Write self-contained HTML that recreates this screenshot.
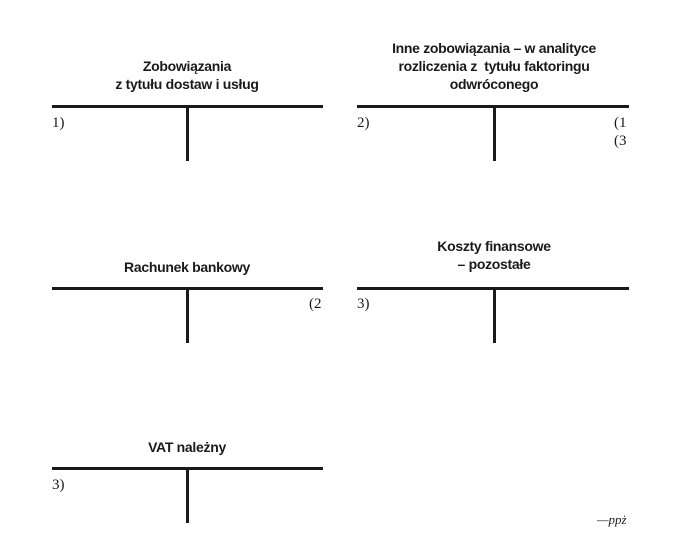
<!DOCTYPE html>
<html><head><meta charset="utf-8"><style>
body{margin:0;width:685px;height:560px;background:#fff;position:relative;overflow:hidden;font-family:"Liberation Sans",sans-serif;color:#1a1a1a}
.h{position:absolute;height:3px;background:#1a1a1a}
.v{position:absolute;width:3px;background:#1a1a1a}
.t{position:absolute;text-align:center;font-weight:bold;font-size:14px;line-height:18px;letter-spacing:-0.3px;width:300px}
.l{position:absolute;font-family:"Liberation Serif",serif;font-size:15px;line-height:16px}
</style></head><body>
<div class="t" style="left:37px;top:57px">Zobowiązania<br>z tytułu dostaw i usług</div>
<div class="h" style="left:52px;top:105px;width:271px"></div>
<div class="v" style="left:186px;top:105px;height:56px"></div>
<div class="l" style="left:52px;top:115px">1)</div>

<div class="t" style="left:344px;top:39px">Inne zobowiązania – w analityce<br>rozliczenia z &nbsp;tytułu faktoringu<br>odwróconego</div>
<div class="h" style="left:357px;top:105px;width:272px"></div>
<div class="v" style="left:493px;top:105px;height:56px"></div>
<div class="l" style="left:357px;top:115px">2)</div>
<div class="l" style="left:614px;top:115px">(1</div>
<div class="l" style="left:614px;top:133px">(3</div>

<div class="t" style="left:37px;top:258px">Rachunek bankowy</div>
<div class="h" style="left:52px;top:287px;width:271px"></div>
<div class="v" style="left:186px;top:287px;height:56px"></div>
<div class="l" style="left:309px;top:296px">(2</div>

<div class="t" style="left:344px;top:237px">Koszty finansowe<br>– pozostałe</div>
<div class="h" style="left:357px;top:287px;width:272px"></div>
<div class="v" style="left:493px;top:287px;height:56px"></div>
<div class="l" style="left:357px;top:296px">3)</div>

<div class="t" style="left:37px;top:438px">VAT należny</div>
<div class="h" style="left:52px;top:467px;width:271px"></div>
<div class="v" style="left:186px;top:467px;height:56px"></div>
<div class="l" style="left:52px;top:477px">3)</div>

<div class="l" style="left:597px;top:512px;font-style:italic;font-size:13px">—ppż</div>
</body></html>
